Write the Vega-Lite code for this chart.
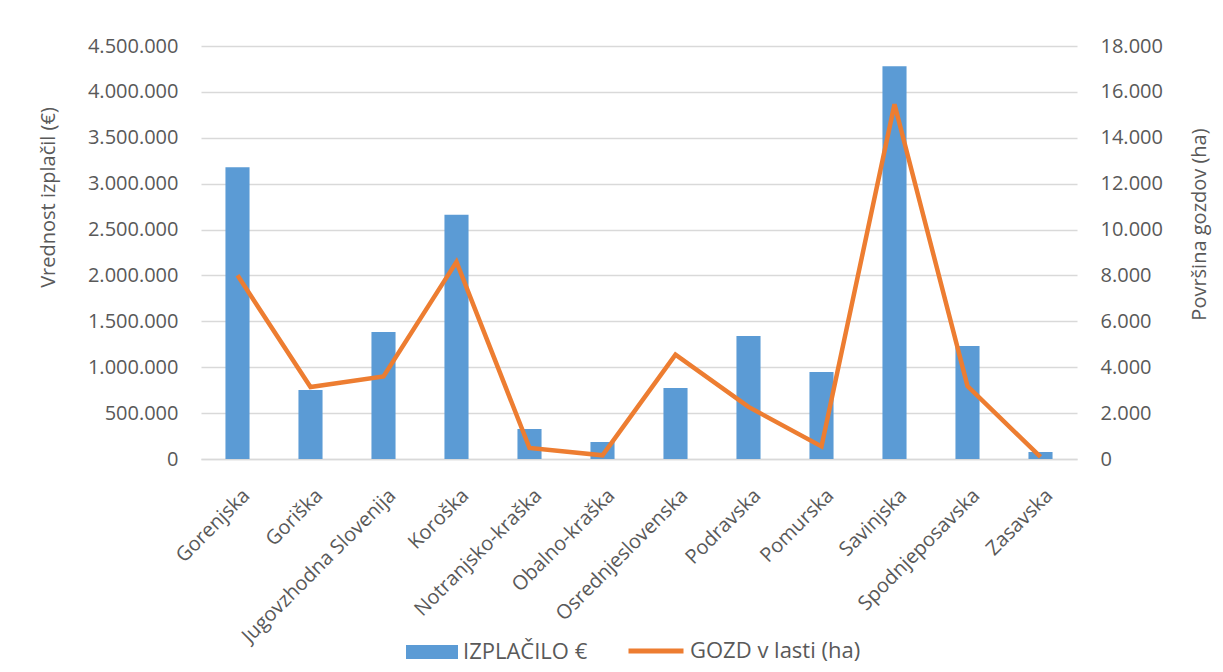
{
  "$schema": "https://vega.github.io/schema/vega-lite/v6.json",
  "width": 876,
  "height": 413,
  "autosize": {"type": "none"},
  "padding": {"left": 201, "top": 46, "right": 146, "bottom": 213},
  "background": "white",
  "config": {
    "locale": {"number": {"decimal": ",", "thousands": ".", "grouping": [3], "currency": ["", " €"]}},
    "view": {"stroke": null},
    "font": "Open Sans",
    "axis": {
      "labelFont": "Open Sans", "labelFontSize": 20, "labelColor": "#595959",
      "titleFont": "Open Sans", "titleFontSize": 20, "titleFontWeight": "normal", "titleColor": "#595959",
      "ticks": false, "domain": false
    },
    "legend": {"labelFont": "Open Sans", "labelFontSize": 22, "labelColor": "#595959", "labelLimit": 400}
  },
  "data": {
    "values": [
      {"regija": "Gorenjska", "izplacilo": 3180000, "gozd": 8006},
      {"regija": "Goriška", "izplacilo": 752000, "gozd": 3140},
      {"regija": "Jugovzhodna Slovenija", "izplacilo": 1384000, "gozd": 3600},
      {"regija": "Koroška", "izplacilo": 2660000, "gozd": 8590},
      {"regija": "Notranjsko-kraška", "izplacilo": 327000, "gozd": 480},
      {"regija": "Obalno-kraška", "izplacilo": 185000, "gozd": 160},
      {"regija": "Osrednjeslovenska", "izplacilo": 774000, "gozd": 4550},
      {"regija": "Podravska", "izplacilo": 1340000, "gozd": 2270},
      {"regija": "Pomurska", "izplacilo": 948000, "gozd": 550},
      {"regija": "Savinjska", "izplacilo": 4280000, "gozd": 15460},
      {"regija": "Spodnjeposavska", "izplacilo": 1230000, "gozd": 3180},
      {"regija": "Zasavska", "izplacilo": 76000, "gozd": 90}
    ]
  },
  "encoding": {
    "x": {
      "field": "regija", "type": "nominal", "sort": null,
      "scale": {"paddingInner": 0.67, "paddingOuter": 0.335},
      "axis": {"title": null, "labelAngle": -45, "labelAlign": "right", "labelBaseline": "top", "labelPadding": 26, "labelOffset": 2, "labelLimit": 400, "domain": true, "domainColor": "#d9d9d9", "domainWidth": 1.5}
    }
  },
  "layer": [
    {
      "mark": {"type": "bar"},
      "encoding": {
        "y": {
          "field": "izplacilo", "type": "quantitative",
          "scale": {"domain": [0, 4500000]},
          "axis": {
            "title": "Vrednost izplačil (€)", "format": ",d", "values": [0, 500000, 1000000, 1500000, 2000000, 2500000, 3000000, 3500000, 4000000, 4500000],
            "grid": true, "gridColor": "#d9d9d9", "gridWidth": 1.5, "labelPadding": 23,
            "titleX": -153, "titleY": 151, "titleBaseline": "middle", "titleAngle": -90
          }
        },
        "fill": {
          "datum": "IZPLAČILO €", "type": "nominal",
          "scale": {"range": ["#5B9BD5"]},
          "legend": {
            "title": null, "orient": "none", "legendX": 205, "legendY": 580, "padding": 0,
            "symbolType": "M-1,-0.27H1V0.27H-1Z", "symbolSize": 2704, "symbolStrokeWidth": 0, "labelOffset": 5
          }
        }
      }
    },
    {
      "mark": {"type": "line", "strokeWidth": 4.5, "strokeJoin": "miter"},
      "encoding": {
        "y": {
          "field": "gozd", "type": "quantitative",
          "scale": {"domain": [0, 18000]},
          "axis": {
            "orient": "right", "title": "Površina gozdov (ha)", "format": ",d", "values": [0, 2000, 4000, 6000, 8000, 10000, 12000, 14000, 16000, 18000],
            "grid": false, "labelPadding": 23,
            "titleX": 122, "titleY": 178, "titleBaseline": "middle", "titleAngle": -90
          }
        },
        "stroke": {
          "datum": "GOZD v lasti (ha)", "type": "nominal",
          "scale": {"range": ["#ED7D31"]},
          "legend": {
            "title": null, "orient": "none", "legendX": 425, "legendY": 575, "padding": 0,
            "symbolType": "stroke", "symbolSize": 3025, "symbolStrokeWidth": 5, "labelOffset": 4
          }
        }
      }
    }
  ],
  "resolve": {"scale": {"y": "independent"}}
}
